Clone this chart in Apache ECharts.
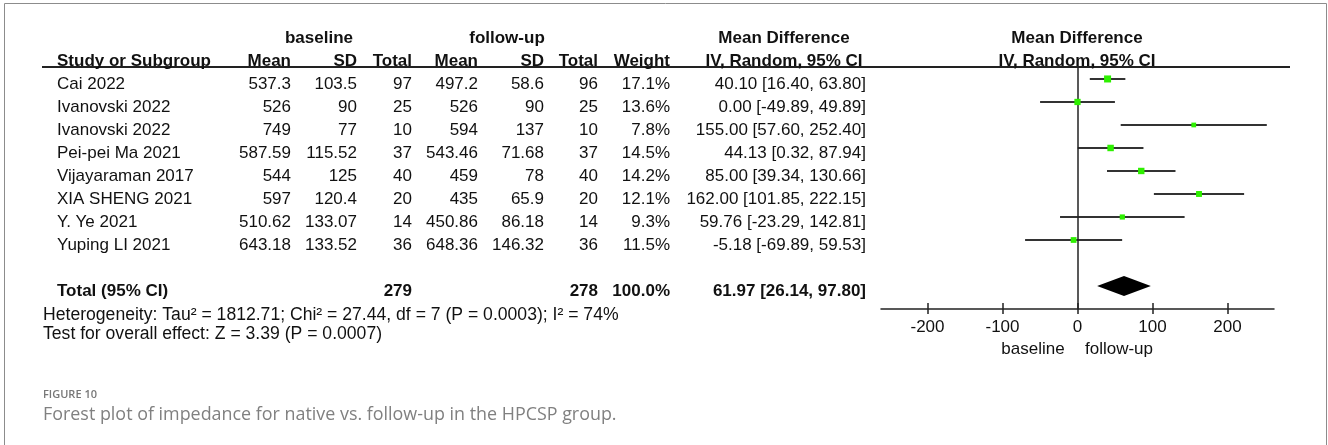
<!DOCTYPE html>
<html>
<head>
<meta charset="utf-8">
<script src="https://cdn.jsdelivr.net/npm/echarts@6/dist/echarts.min.js"></script>
<style>
  html, body { margin: 0; padding: 0; background: #fff; }
  #main { width: 1328px; height: 445px; }
</style>
</head>
<body>
<div id="main"></div>
<script>
var studies = ['Cai 2022', 'Ivanovski 2022', 'Ivanovski 2022', 'Pei-pei Ma 2021', 'Vijayaraman 2017', 'XIA SHENG 2021', 'Y. Ye 2021', 'Yuping LI 2021'];
var baseMean = [537.3, 526, 749, 587.59, 544, 597, 510.62, 643.18];
var baseSD = [103.5, 90, 77, 115.52, 125, 120.4, 133.07, 133.52];
var baseN = [97, 25, 10, 37, 40, 20, 14, 36];
var followMean = [497.2, 526, 594, 543.46, 459, 435, 450.86, 648.36];
var followSD = [58.6, 90, 137, 71.68, 78, 65.9, 86.18, 146.32];
var followN = [96, 25, 10, 37, 40, 20, 14, 36];
var weights = [17.1, 13.6, 7.8, 14.5, 14.2, 12.1, 9.3, 11.5];
var md = [40.10, 0.00, 155.00, 44.13, 85.00, 162.00, 59.76, -5.18];
var ciLow = [16.40, -49.89, 57.60, 0.32, 39.34, 101.85, -23.29, -69.89];
var ciHigh = [63.80, 49.89, 252.40, 87.94, 130.66, 222.15, 142.81, 59.53];
var totalBaseN = 279;
var totalFollowN = 278;
var totalWeight = 100.0;
var totalMd = [26.14, 61.97, 97.80]; // low, estimate, high
var tickValues = [-200, -100, 0, 100, 200];

var FONT = '"Liberation Sans", Arial, sans-serif';
var TEXT = '#111';
var TOTAL_ROW = 9;

var chart = echarts.init(document.getElementById('main'));

// table cells, x = column anchor in px, row = row index on the shared y scale
var col = { study: 57, bMean: 291, bSD: 357, bN: 412, fMean: 478, fSD: 544, fN: 598, weight: 670, ci: 866, mdHead: 784, plotHead: 1077 };
var cells = [];
function cell(x, row, text, align, bold) {
  cells.push({ x: x, row: row, text: String(text), align: align || 'right', bold: !!bold });
}
function ciText(m, l, h) {
  return m.toFixed(2) + ' [' + l.toFixed(2) + ', ' + h.toFixed(2) + ']';
}

cell(319, -2, 'baseline', 'center', true);
cell(507, -2, 'follow-up', 'center', true);
cell(col.mdHead, -2, 'Mean Difference', 'center', true);
cell(col.plotHead, -2, 'Mean Difference', 'center', true);
cell(col.study, -1, 'Study or Subgroup', 'left', true);
cell(col.bMean, -1, 'Mean', 'right', true);
cell(col.bSD, -1, 'SD', 'right', true);
cell(col.bN, -1, 'Total', 'right', true);
cell(col.fMean, -1, 'Mean', 'right', true);
cell(col.fSD, -1, 'SD', 'right', true);
cell(col.fN, -1, 'Total', 'right', true);
cell(col.weight, -1, 'Weight', 'right', true);
cell(col.mdHead, -1, 'IV, Random, 95% CI', 'center', true);
cell(col.plotHead, -1, 'IV, Random, 95% CI', 'center', true);

for (var i = 0; i < studies.length; i++) {
  cell(col.study, i, studies[i], 'left');
  cell(col.bMean, i, baseMean[i]);
  cell(col.bSD, i, baseSD[i]);
  cell(col.bN, i, baseN[i]);
  cell(col.fMean, i, followMean[i]);
  cell(col.fSD, i, followSD[i]);
  cell(col.fN, i, followN[i]);
  cell(col.weight, i, weights[i].toFixed(1) + '%');
  cell(col.ci, i, ciText(md[i], ciLow[i], ciHigh[i]));
}
cell(col.study, TOTAL_ROW, 'Total (95% CI)', 'left', true);
cell(col.bN, TOTAL_ROW, totalBaseN, 'right', true);
cell(col.fN, TOTAL_ROW, totalFollowN, 'right', true);
cell(col.weight, TOTAL_ROW, totalWeight.toFixed(1) + '%', 'right', true);
cell(col.ci, TOTAL_ROW, ciText(totalMd[1], totalMd[0], totalMd[2]), 'right', true);

var ciData = [];
var pointData = [];
for (var j = 0; j < studies.length; j++) {
  ciData.push([ciLow[j], ciHigh[j], j]);
  pointData.push({ value: [md[j], j], symbolSize: 1.7 * Math.sqrt(weights[j]) });
}

var yScale = { type: 'value', min: -0.52, max: 10, inverse: true, show: false };

var option = {
  animation: false,
  textStyle: { fontFamily: FONT },
  grid: [
    { left: 881, top: 67, width: 393, height: 242, outerBoundsMode: 'none' },
    { left: 0, top: 67, width: 1328, height: 242, outerBoundsMode: 'none' }
  ],
  xAxis: [
    {
      gridIndex: 0, type: 'value', min: -262, max: 262, position: 'bottom',
      splitLine: { show: false },
      axisLine: { show: true, onZero: false, lineStyle: { color: '#222', width: 1.5 } },
      axisTick: { show: true, length: 5, customValues: tickValues, lineStyle: { color: '#222', width: 1.5 } },
      axisLabel: { customValues: tickValues, fontSize: 17, color: TEXT, margin: 10, fontFamily: FONT }
    },
    {
      gridIndex: 0, type: 'value', min: -262, max: 262, position: 'bottom',
      splitLine: { show: false },
      axisLine: { show: false, onZero: false },
      axisTick: { show: true, inside: true, length: 6, customValues: tickValues, lineStyle: { color: '#222', width: 1.5 } },
      axisLabel: { show: false }
    },
    { gridIndex: 1, type: 'value', min: 0, max: 1328, show: false }
  ],
  yAxis: [
    Object.assign({ gridIndex: 0 }, yScale),
    Object.assign({ gridIndex: 1 }, yScale)
  ],
  graphic: [
    { type: 'rect', shape: { x: 4.5, y: 3.5, width: 1322, height: 470 }, style: { fill: 'none', stroke: '#8c8c8c', lineWidth: 1 }, z: 0 },
    { type: 'line', shape: { x1: 42, y1: 67, x2: 1290, y2: 67 }, style: { stroke: '#222', lineWidth: 2 } },
    { type: 'text', x: 1033, y: 349, style: { text: 'baseline', font: '17px ' + FONT, fill: TEXT, textAlign: 'center', textVerticalAlign: 'middle' } },
    { type: 'text', x: 1119, y: 349, style: { text: 'follow-up', font: '17px ' + FONT, fill: TEXT, textAlign: 'center', textVerticalAlign: 'middle' } },
    { type: 'text', x: 43, y: 315, style: { text: 'Heterogeneity: Tau\u00b2 = 1812.71; Chi\u00b2 = 27.44, df = 7 (P = 0.0003); I\u00b2 = 74%', font: '17.6px ' + FONT, fill: TEXT, textVerticalAlign: 'middle' } },
    { type: 'text', x: 43, y: 334, style: { text: 'Test for overall effect: Z = 3.39 (P = 0.0007)', font: '17.6px ' + FONT, fill: TEXT, textVerticalAlign: 'middle' } },
    { type: 'text', x: 43, y: 395, style: { text: 'FIGURE 10', font: '600 11px "Open Sans", sans-serif', fill: '#777', textVerticalAlign: 'middle' } },
    { type: 'text', x: 43, y: 415, style: { text: 'Forest plot of impedance for native vs. follow-up in the HPCSP group.', font: '17.9px "Open Sans", sans-serif', fill: '#808080', textVerticalAlign: 'middle' } }
  ],
  series: [
    {
      name: 'table', type: 'custom', xAxisIndex: 2, yAxisIndex: 1, clip: false, silent: true,
      data: cells.map(function (c) { return [c.x, c.row]; }),
      renderItem: function (params, api) {
        var c = cells[params.dataIndex];
        var p = api.coord([c.x, c.row]);
        return {
          type: 'text', x: p[0], y: p[1] + 5,
          style: {
            text: c.text, fill: TEXT, textAlign: c.align, textVerticalAlign: 'middle',
            font: (c.bold ? 'bold ' : '') + '17px ' + FONT
          }
        };
      }
    },
    {
      name: 'ci', type: 'custom', xAxisIndex: 0, yAxisIndex: 0, clip: false, silent: true,
      encode: { x: [0, 1], y: 2 },
      data: ciData,
      renderItem: function (params, api) {
        var a = api.coord([api.value(0), api.value(2)]);
        var b = api.coord([api.value(1), api.value(2)]);
        return { type: 'line', shape: { x1: a[0], y1: a[1], x2: b[0], y2: b[1] }, style: { stroke: '#333', lineWidth: 2 } };
      }
    },
    {
      name: 'Mean Difference', type: 'scatter', xAxisIndex: 0, yAxisIndex: 0, symbol: 'rect',
      data: pointData,
      itemStyle: { color: '#2ef000', opacity: 1 },
      z: 5,
      markLine: {
        silent: true, symbol: 'none', label: { show: false },
        lineStyle: { color: '#222', width: 1.5, type: 'solid' },
        data: [{ xAxis: 0 }]
      }
    },
    {
      name: 'total', type: 'custom', xAxisIndex: 0, yAxisIndex: 0, clip: false, silent: true,
      encode: { x: [0, 1, 2], y: 3 },
      data: [[totalMd[0], totalMd[1], totalMd[2], TOTAL_ROW]],
      renderItem: function (params, api) {
        var row = api.value(3);
        var l = api.coord([api.value(0), row]);
        var m = api.coord([api.value(1), row]);
        var h = api.coord([api.value(2), row]);
        return {
          type: 'polygon',
          shape: { points: [[l[0], l[1]], [m[0], m[1] - 10], [h[0], h[1]], [m[0], m[1] + 10]] },
          style: { fill: '#000' }, z2: 10
        };
      }
    }
  ]
};

chart.setOption(option);
window.addEventListener('resize', function () {
  chart.resize();
});
</script>
</body>
</html>
